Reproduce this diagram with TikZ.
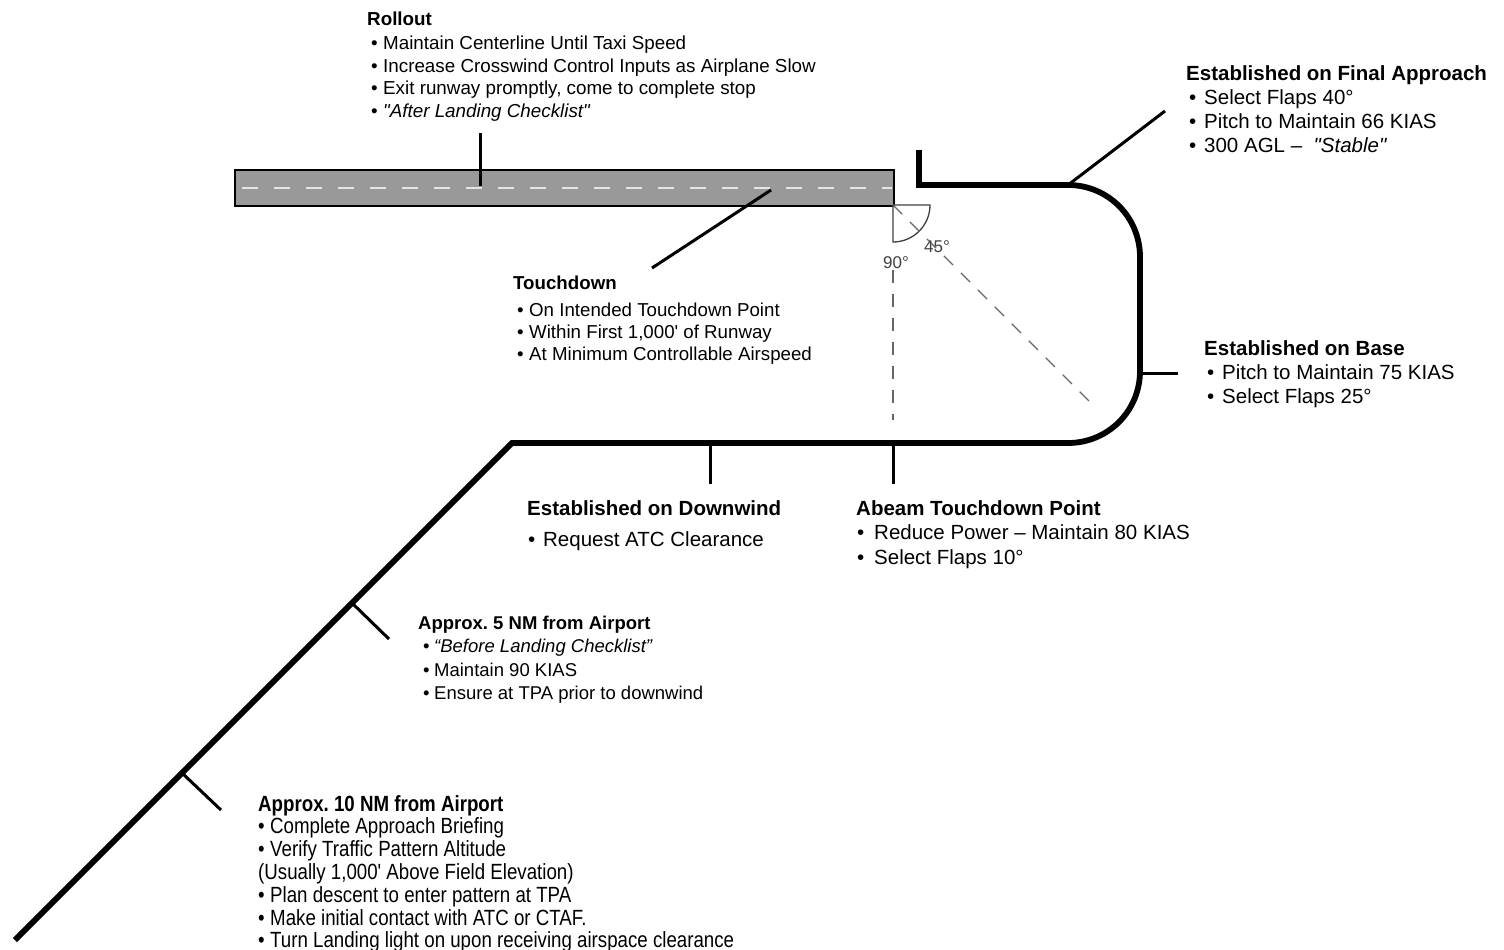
\documentclass[tikz,border=0pt]{standalone}
\usepackage{fontspec}
\newfontfamily\mf{Liberation Sans}
\newfontfamily\nf{Liberation Sans}[FakeStretch=0.85]
\newcommand{\mybul}[1]{\makebox[#1][l]{•}}
\begin{document}
\begin{tikzpicture}[x=1pt,y=-1pt,
  route/.style={line width=5.8pt, line join=miter},
  tick/.style={line width=3pt},
  ang/.style={line width=1.3pt, draw=black!75},
  guide/.style={line width=1.3pt, draw=black!60, dash pattern=on 13pt off 11pt},
  lbl/.style={anchor=north west, inner sep=0pt, align=left},
  small/.style={font=\mf\fontsize{18.8}{22.5}\selectfont},
  big/.style={font=\mf\fontsize{20.5}{24.3}\selectfont}]
\useasboundingbox (0,0) rectangle (1504,950);

% runway
\node[draw=black, line width=2pt, fill=black!40, minimum width=659pt, minimum height=36pt,
      anchor=north west, inner sep=0pt] (runway) at (234,169) {};
\coordinate (cl0) at (242,188);
\coordinate (cl1) at (892,188);
\draw[white!90!black, line width=2pt, dash pattern=on 16pt off 16pt] (cl0) -- (cl1);

% traffic pattern
\coordinate (s0) at (919,150);
\coordinate (s1) at (919,185);
\coordinate (c1) at (1068,185);
\coordinate (c2) at (1140,257);
\coordinate (c3) at (1140,371);
\coordinate (c4) at (1068,443);
\coordinate (d0) at (512,443);
\coordinate (d1) at (15,940);
\draw[route] (s0) -- (s1) -- (c1) .. controls (1108,185) and (1140,217) .. (c2)
  -- (c3) .. controls (1140,411) and (1108,443) .. (c4) -- (d0) -- (d1);

% angle marks
\coordinate (rc) at (893,205);
\coordinate (a1) at (930,205);
\coordinate (a2) at (893,242);
\draw[ang] (rc) -- (a1) .. controls (930,225.4) and (913.4,242) .. (a2) -- (rc);
\coordinate (v0) at (893,270);
\coordinate (v1) at (893,420);
\coordinate (g1) at (1092,404);
\draw[guide] (v0) -- (v1);
\draw[guide] (rc) -- (g1);
\node[text=black!75, font=\mf\fontsize{17}{20}\selectfont, inner sep=0pt] (n90) at (896,263) {90°};
\node[text=black!75, font=\mf\fontsize{17}{20}\selectfont, inner sep=0pt] (n45) at (937,247) {45°};

% ticks and leaders
\coordinate (t1a) at (480,133); \coordinate (t1b) at (480,186);
\draw[tick] (t1a) -- (t1b);
\coordinate (t2a) at (652,268); \coordinate (t2b) at (771,190);
\draw[tick] (t2a) -- (t2b);
\coordinate (t3a) at (1165,111);
\draw[tick] (c1) -- (t3a);
\coordinate (t4a) at (1140,373); \coordinate (t4b) at (1178,373);
\draw[tick] (t4a) -- (t4b);
\coordinate (t5a) at (710,443); \coordinate (t5b) at (710,484);
\draw[tick] (t5a) -- (t5b);
\coordinate (t6a) at (893,443); \coordinate (t6b) at (893,484);
\draw[tick] (t6a) -- (t6b);
\coordinate (t7a) at (352,603); \coordinate (t7b) at (389,639);
\draw[tick] (t7a) -- (t7b);
\coordinate (t8a) at (182,773); \coordinate (t8b) at (221,810);
\draw[tick] (t8a) -- (t8b);

% labels
\node[lbl, small] (rollout) at (367,12) {%
  \textbf{Rollout}\\[1.5pt]
  \hspace*{4pt}\mybul{12pt}Maintain Centerline Until Taxi Speed\\
  \hspace*{4pt}\mybul{12pt}Increase Crosswind Control Inputs as Airplane Slow\\
  \hspace*{4pt}\mybul{12pt}Exit runway promptly, come to complete stop\\
  \hspace*{4pt}\mybul{12pt}\textit{"After Landing Checklist"}};

\node[lbl, big] (final) at (1186,65) {%
  \textbf{Established on Final Approach}\\
  \hspace*{3pt}\mybul{15pt}Select Flaps 40°\\
  \hspace*{3pt}\mybul{15pt}Pitch to Maintain 66 KIAS\\
  \hspace*{3pt}\mybul{15pt}300 AGL –\ \ \textit{"Stable"}};

\node[lbl, font=\mf\fontsize{18.7}{22}\selectfont] (touch) at (513,276) {%
  \textbf{Touchdown}\\[5pt]
  \hspace*{4pt}\mybul{12pt}On Intended Touchdown Point\\
  \hspace*{4pt}\mybul{12pt}Within First 1,000' of Runway\\
  \hspace*{4pt}\mybul{12pt}At Minimum Controllable Airspeed};

\node[lbl, big] (base) at (1204,340) {%
  \textbf{Established on Base}\\
  \hspace*{3pt}\mybul{15pt}Pitch to Maintain 75 KIAS\\
  \hspace*{3pt}\mybul{15pt}Select Flaps 25°};

\node[lbl, big] (down) at (527,500) {%
  \textbf{Established on Downwind}\\[7pt]
  \hspace*{1pt}\mybul{15pt}Request ATC Clearance};

\node[lbl, font=\mf\fontsize{20.5}{24.5}\selectfont] (abeam) at (856,500) {%
  \textbf{Abeam Touchdown Point}\\
  \hspace*{1pt}\mybul{17pt}Reduce Power – Maintain 80 KIAS\\
  \hspace*{1pt}\mybul{17pt}Select Flaps 10°};

\node[lbl, font=\mf\fontsize{18.5}{23.3}\selectfont] (five) at (418,616) {%
  \textbf{Approx.\ 5 NM from Airport}\\
  \hspace*{5pt}\mybul{11pt}\textit{“Before Landing Checklist”}\\
  \hspace*{5pt}\mybul{11pt}Maintain 90 KIAS\\
  \hspace*{5pt}\mybul{11pt}Ensure at TPA prior to downwind};

\node[lbl, font=\nf\fontsize{22}{22.8}\selectfont] (ten) at (258,795) {%
  \textbf{Approx.\ 10 NM from Airport}\\
  \mybul{12pt}Complete Approach Briefing\\
  \mybul{12pt}Verify Traffic Pattern Altitude\\
  (Usually 1,000' Above Field Elevation)\\
  \mybul{12pt}Plan descent to enter pattern at TPA\\
  \mybul{12pt}Make initial contact with ATC or CTAF.\\
  \mybul{12pt}Turn Landing light on upon receiving airspace clearance};
\end{tikzpicture}
\end{document}
